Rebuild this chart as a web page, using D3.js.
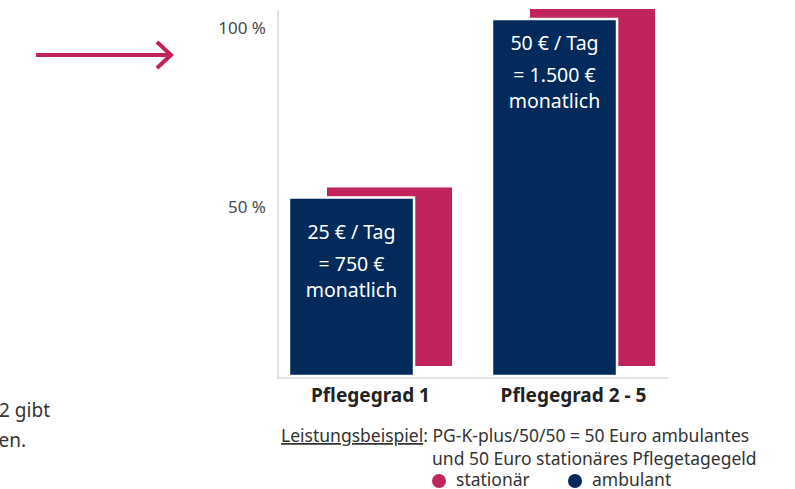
<!DOCTYPE html>
<html>
<head>
<meta charset="utf-8">
<script src="https://cdn.jsdelivr.net/npm/d3@7"></script>
<style>
  body { margin: 0; background: #fff; }
  svg { display: block; font-family: "Noto Sans", "Open Sans", sans-serif; }
</style>
</head>
<body>
<svg id="chart" width="795" height="489"></svg>
<script>
// data
var categories = ["Pflegegrad 1", "Pflegegrad 2 - 5"];
var stationaer = [50, 100];
var ambulant = [50, 100];
var tagesSatz = ["25 € / Tag", "50 € / Tag"];
var monatsSatz = ["= 750 €", "= 1.500 €"];
var yTicks = [50, 100];
var legendItems = ["stationär", "ambulant"];

var pink = "#c1245c";
var navy = "#022a5b";

var svg = d3.select("#chart");

var x = d3.scaleBand()
	.domain(categories)
	.range([278, 628])
	.paddingInner(0.384)
	.paddingOuter(0.054);

var y = d3.scaleLinear()
	.domain([0, 100])
	.range([376, 19]);

var shift = {dx: 38, dy: -10}; // stationär bar sits behind, offset up/right

// left arrow
svg.append("line")
	.attr("x1", 36).attr("x2", 171)
	.attr("y1", 55).attr("y2", 55)
	.attr("stroke", pink).attr("stroke-width", 4);
svg.append("polyline")
	.attr("points", "157,42 171,55 157,68")
	.attr("fill", "none")
	.attr("stroke", pink).attr("stroke-width", 4);

// cut-off body text on the left
svg.append("text").text("2 gibt")
	.attr("x", 50).attr("y", 417)
	.attr("text-anchor", "end")
	.attr("font-size", 19).attr("fill", "#333");
svg.append("text").text("en.")
	.attr("x", 26).attr("y", 447)
	.attr("text-anchor", "end")
	.attr("font-size", 19).attr("fill", "#333");

// axis lines
svg.append("line")
	.attr("x1", 278).attr("x2", 278)
	.attr("y1", 10).attr("y2", 378)
	.attr("stroke", "#e0e2e6").attr("stroke-width", 2);
svg.append("line")
	.attr("x1", 277).attr("x2", 668)
	.attr("y1", 378).attr("y2", 378)
	.attr("stroke", "#e0e2e6").attr("stroke-width", 2);

// y tick labels
svg.selectAll(".ytick")
	.data(yTicks).enter()
	.append("text")
	.attr("class", "ytick")
	.attr("x", 266)
	.attr("y", function(d){ return y(d) + 15; })
	.attr("text-anchor", "end")
	.attr("font-size", 17)
	.attr("fill", "#4a4a4a")
	.text(function(d){ return d + " %"; });

// stationär bars (behind)
svg.selectAll(".stat")
	.data(stationaer).enter()
	.append("rect")
	.attr("class", "stat")
	.attr("x", function(d, i){ return x(categories[i]) + shift.dx; })
	.attr("y", function(d){ return y(d) + shift.dy; })
	.attr("width", x.bandwidth())
	.attr("height", function(d){ return y(0) - y(d); })
	.attr("fill", pink);

// ambulant bars (front)
svg.selectAll(".amb")
	.data(ambulant).enter()
	.append("rect")
	.attr("class", "amb")
	.attr("x", function(d, i){ return x(categories[i]); })
	.attr("y", function(d){ return y(d); })
	.attr("width", x.bandwidth())
	.attr("height", function(d){ return y(0) - y(d); })
	.attr("fill", navy)
	.attr("stroke", "#fff")
	.attr("stroke-width", 2.5);

// labels inside the ambulant bars
var labels = svg.selectAll(".barlabel")
	.data(ambulant).enter()
	.append("text")
	.attr("class", "barlabel")
	.attr("text-anchor", "middle")
	.attr("font-size", 19.5)
	.attr("fill", "#fff");

labels.each(function(d, i){
	var cx = x(categories[i]) + x.bandwidth() / 2;
	var top = y(d) + (i === 0 ? 41 : 31);
	var t = d3.select(this);
	t.append("tspan").attr("x", cx).attr("y", top).text(tagesSatz[i]);
	t.append("tspan").attr("x", cx).attr("y", top + 32).text(monatsSatz[i]);
	t.append("tspan").attr("x", cx).attr("y", top + 58).text("monatlich");
});

// category labels
svg.selectAll(".cat")
	.data(categories).enter()
	.append("text")
	.attr("class", "cat")
	.attr("x", function(d){ return x(d) + (x.bandwidth() + shift.dx) / 2; })
	.attr("y", 402)
	.attr("text-anchor", "middle")
	.attr("font-size", 19)
	.attr("font-weight", "bold")
	.attr("fill", "#222")
	.text(function(d){ return d; });

// footnote
var note = svg.append("text")
	.attr("x", 281).attr("y", 442)
	.attr("font-size", 17.5)
	.attr("fill", "#333");
note.append("tspan").attr("text-decoration", "underline").text("Leistungsbeispiel");
note.append("tspan").text(": PG-K-plus/50/50 = 50 Euro ambulantes");
svg.append("text")
	.attr("x", 432).attr("y", 465)
	.attr("font-size", 17.5)
	.attr("fill", "#333")
	.text("und 50 Euro stationäres Pflegetagegeld");

// legend
var legendColors = [pink, navy];
var legend = svg.selectAll(".legend")
	.data(legendItems).enter()
	.append("g")
	.attr("class", "legend")
	.attr("transform", function(d, i){ return "translate(" + (439 + i * 136) + ",481)"; });
legend.append("circle")
	.attr("r", 7)
	.attr("fill", function(d, i){ return legendColors[i]; });
legend.append("text")
	.attr("x", 17).attr("y", 5)
	.attr("font-size", 17.5)
	.attr("fill", "#333")
	.text(function(d){ return d; });
</script>
</body>
</html>
